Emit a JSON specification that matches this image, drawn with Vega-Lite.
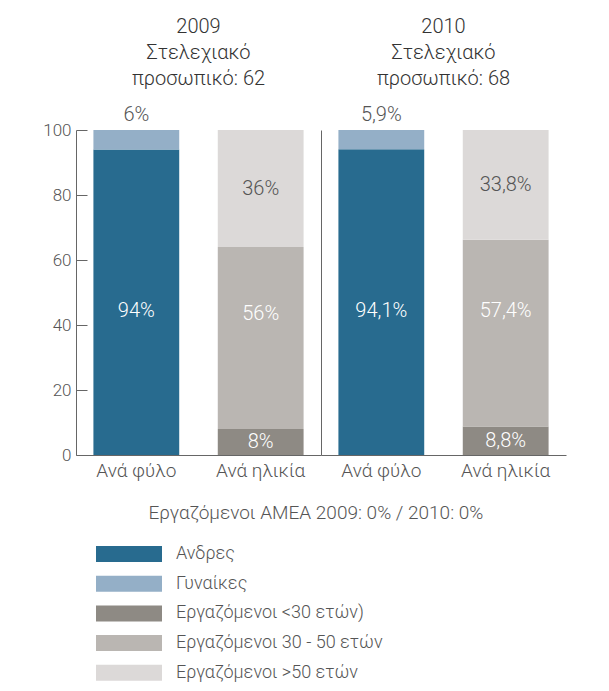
{
  "$schema": "https://vega.github.io/schema/vega-lite/v6.json",
  "background": "white",
  "padding": {"left": 42, "top": 17, "right": 5, "bottom": 5},
  "bounds": "flush",
  "spacing": 0,
  "config": {
    "font": "Roboto",
    "view": {"stroke": null},
    "axis": {"grid": false, "labelFont": "Roboto", "labelFontWeight": 300, "labelColor": "#555", "domainColor": "#666", "tickColor": "#666"},
    "title": {"font": "Roboto", "fontWeight": 300, "color": "#333"},
    "text": {"font": "Roboto", "fontSize": 20, "fontWeight": 300}
  },
  "data": {
    "values": [
      {"year": 2009, "group": "Ανά φύλο", "category": "Ανδρες", "ord": 1, "value": 94, "label": "94%"},
      {"year": 2009, "group": "Ανά φύλο", "category": "Γυναίκες", "ord": 2, "value": 6, "label": "6%"},
      {"year": 2009, "group": "Ανά ηλικία", "category": "Εργαζόμενοι <30 ετών)", "ord": 3, "value": 8, "label": "8%"},
      {"year": 2009, "group": "Ανά ηλικία", "category": "Εργαζόμενοι 30 - 50 ετών", "ord": 4, "value": 56, "label": "56%"},
      {"year": 2009, "group": "Ανά ηλικία", "category": "Εργαζόμενοι >50 ετών", "ord": 5, "value": 36, "label": "36%"},
      {"year": 2010, "group": "Ανά φύλο", "category": "Ανδρες", "ord": 1, "value": 94.1, "label": "94,1%"},
      {"year": 2010, "group": "Ανά φύλο", "category": "Γυναίκες", "ord": 2, "value": 5.9, "label": "5,9%"},
      {"year": 2010, "group": "Ανά ηλικία", "category": "Εργαζόμενοι <30 ετών)", "ord": 3, "value": 8.8, "label": "8,8%"},
      {"year": 2010, "group": "Ανά ηλικία", "category": "Εργαζόμενοι 30 - 50 ετών", "ord": 4, "value": 57.4, "label": "57,4%"},
      {"year": 2010, "group": "Ανά ηλικία", "category": "Εργαζόμενοι >50 ετών", "ord": 5, "value": 33.8, "label": "33,8%"}
    ]
  },
  "hconcat": [
    {
      "width": 245,
      "height": 325,
      "title": {"text": ["2009", "Στελεχιακό", "προσωπικό: 62"], "frame": "group", "anchor": "middle", "fontSize": 20, "lineHeight": 26, "offset": 16},
      "transform": [{"filter": "datum.year == 2009"}],
      "encoding": {
        "x": {"field": "group", "type": "nominal", "sort": ["Ανά φύλο", "Ανά ηλικία"],
          "scale": {"paddingInner": 0.31, "paddingOuter": 0.14},
          "axis": {"title": "Εργαζόμενοι ΑΜΕΑ 2009: 0% / 2010: 0%", "labelAngle": 0, "ticks": false, "labelPadding": 6, "labelFontSize": 19,
            "titleAnchor": "start", "titleAlign": "left", "titleX": 72, "titleY": 48, "titleFontSize": 19, "titleFontWeight": 300, "titleColor": "#555", "titleFont": "Roboto"}}
      },
      "layer": [
        {
          "mark": {"type": "bar"},
          "encoding": {
            "y": {"field": "value", "type": "quantitative", "stack": "zero", "scale": {"domain": [0, 100]},
              "axis": {"values": [0, 20, 40, 60, 80, 100], "tickSize": -11, "labelPadding": 16, "labelFontSize": 17, "title": null}},
            "color": {"field": "category", "type": "nominal",
              "scale": {"domain": ["Ανδρες", "Γυναίκες", "Εργαζόμενοι <30 ετών)", "Εργαζόμενοι 30 - 50 ετών", "Εργαζόμενοι >50 ετών"],
                "range": ["#286b8f", "#94afc7", "#8e8a84", "#bab6b2", "#dcd9d8"]},
              "legend": {"orient": "none", "legendX": 44, "legendY": 415, "title": null,
                "symbolType": "M-4.125,-1H4.125V1H-4.125Z", "symbolSize": 256, "symbolStrokeWidth": 0, "symbolOpacity": 1,
                "labelOffset": 38, "labelFontSize": 18, "labelFont": "Roboto", "labelFontWeight": 300, "labelColor": "#555", "rowPadding": 11.7, "labelLimit": 400}},
            "order": {"field": "ord", "type": "quantitative"}
          }
        },
        {
          "transform": [{"filter": "datum.group == 'Ανά ηλικία'"}],
          "mark": {"type": "text", "baseline": "middle"},
          "encoding": {
            "y": {"field": "value", "type": "quantitative", "stack": "zero", "bandPosition": 0.5, "axis": {"values": [0, 20, 40, 60, 80, 100], "tickSize": -11, "labelPadding": 16, "labelFontSize": 17, "title": null}},
            "detail": {"field": "category"},
            "order": {"field": "ord", "type": "quantitative"},
            "text": {"condition": {"test": "datum.category != 'Εργαζόμενοι 30 - 50 ετών'", "field": "label"}, "value": ""},
            "color": {"condition": {"test": "datum.category == 'Εργαζόμενοι >50 ετών'", "value": "#555"}, "value": "white"}
          }
        },
        {
          "transform": [{"filter": "datum.group == 'Ανά ηλικία'"}],
          "mark": {"type": "text", "baseline": "middle", "color": "white"},
          "encoding": {
            "y": {"field": "value", "type": "quantitative", "stack": "zero", "bandPosition": 0.63, "axis": {"values": [0, 20, 40, 60, 80, 100], "tickSize": -11, "labelPadding": 16, "labelFontSize": 17, "title": null}},
            "detail": {"field": "category"},
            "order": {"field": "ord", "type": "quantitative"},
            "text": {"condition": {"test": "datum.category == 'Εργαζόμενοι 30 - 50 ετών'", "field": "label"}, "value": ""}
          }
        },
        {
          "transform": [{"filter": "datum.group == 'Ανά φύλο'"}],
          "mark": {"type": "text", "baseline": "middle", "color": "white"},
          "encoding": {
            "y": {"field": "value", "type": "quantitative", "stack": "zero", "bandPosition": 0.47, "axis": {"values": [0, 20, 40, 60, 80, 100], "tickSize": -11, "labelPadding": 16, "labelFontSize": 17, "title": null}},
            "detail": {"field": "category"},
            "order": {"field": "ord", "type": "quantitative"},
            "text": {"condition": {"test": "datum.category == 'Ανδρες'", "field": "label"}, "value": ""}
          }
        },
        {
          "transform": [{"filter": "datum.group == 'Ανά φύλο'"}],
          "mark": {"type": "text", "baseline": "bottom", "dy": -5, "color": "#555"},
          "encoding": {
            "y": {"field": "value", "type": "quantitative", "stack": "zero", "axis": {"values": [0, 20, 40, 60, 80, 100], "tickSize": -11, "labelPadding": 16, "labelFontSize": 17, "title": null}},
            "detail": {"field": "category"},
            "order": {"field": "ord", "type": "quantitative"},
            "text": {"condition": {"test": "datum.category == 'Γυναίκες'", "field": "label"}, "value": ""}
          }
        }
      ]
    },
    {
      "width": 245,
      "height": 325,
      "title": {"text": ["2010", "Στελεχιακό", "προσωπικό: 68"], "frame": "group", "anchor": "middle", "fontSize": 20, "lineHeight": 26, "offset": 16},
      "transform": [{"filter": "datum.year == 2010"}],
      "encoding": {
        "x": {"field": "group", "type": "nominal", "sort": ["Ανά φύλο", "Ανά ηλικία"],
          "scale": {"paddingInner": 0.31, "paddingOuter": 0.14},
          "axis": {"title": null, "labelAngle": 0, "ticks": false, "labelPadding": 6, "labelFontSize": 19}}
      },
      "layer": [
        {
          "mark": {"type": "bar"},
          "encoding": {
            "y": {"field": "value", "type": "quantitative", "stack": "zero", "scale": {"domain": [0, 100]},
              "axis": {"labels": false, "ticks": false, "title": null, "domain": true}},
            "color": {"field": "category", "type": "nominal",
              "scale": {"domain": ["Ανδρες", "Γυναίκες", "Εργαζόμενοι <30 ετών)", "Εργαζόμενοι 30 - 50 ετών", "Εργαζόμενοι >50 ετών"],
                "range": ["#286b8f", "#94afc7", "#8e8a84", "#bab6b2", "#dcd9d8"]},
              "legend": {"orient": "none", "legendX": 44, "legendY": 415, "title": null,
                "symbolType": "M-4.125,-1H4.125V1H-4.125Z", "symbolSize": 256, "symbolStrokeWidth": 0, "symbolOpacity": 1,
                "labelOffset": 38, "labelFontSize": 18, "labelFont": "Roboto", "labelFontWeight": 300, "labelColor": "#555", "rowPadding": 11.7, "labelLimit": 400}},
            "order": {"field": "ord", "type": "quantitative"}
          }
        },
        {
          "transform": [{"filter": "datum.group == 'Ανά ηλικία'"}],
          "mark": {"type": "text", "baseline": "middle"},
          "encoding": {
            "y": {"field": "value", "type": "quantitative", "stack": "zero", "bandPosition": 0.5, "axis": {"labels": false, "ticks": false, "title": null, "domain": true}},
            "detail": {"field": "category"},
            "order": {"field": "ord", "type": "quantitative"},
            "text": {"condition": {"test": "datum.category != 'Εργαζόμενοι 30 - 50 ετών'", "field": "label"}, "value": ""},
            "color": {"condition": {"test": "datum.category == 'Εργαζόμενοι >50 ετών'", "value": "#555"}, "value": "white"}
          }
        },
        {
          "transform": [{"filter": "datum.group == 'Ανά ηλικία'"}],
          "mark": {"type": "text", "baseline": "middle", "color": "white"},
          "encoding": {
            "y": {"field": "value", "type": "quantitative", "stack": "zero", "bandPosition": 0.62, "axis": {"labels": false, "ticks": false, "title": null, "domain": true}},
            "detail": {"field": "category"},
            "order": {"field": "ord", "type": "quantitative"},
            "text": {"condition": {"test": "datum.category == 'Εργαζόμενοι 30 - 50 ετών'", "field": "label"}, "value": ""}
          }
        },
        {
          "transform": [{"filter": "datum.group == 'Ανά φύλο'"}],
          "mark": {"type": "text", "baseline": "middle", "color": "white"},
          "encoding": {
            "y": {"field": "value", "type": "quantitative", "stack": "zero", "bandPosition": 0.47, "axis": {"labels": false, "ticks": false, "title": null, "domain": true}},
            "detail": {"field": "category"},
            "order": {"field": "ord", "type": "quantitative"},
            "text": {"condition": {"test": "datum.category == 'Ανδρες'", "field": "label"}, "value": ""}
          }
        },
        {
          "transform": [{"filter": "datum.group == 'Ανά φύλο'"}],
          "mark": {"type": "text", "baseline": "bottom", "dy": -5, "color": "#555"},
          "encoding": {
            "y": {"field": "value", "type": "quantitative", "stack": "zero", "axis": {"labels": false, "ticks": false, "title": null, "domain": true}},
            "detail": {"field": "category"},
            "order": {"field": "ord", "type": "quantitative"},
            "text": {"condition": {"test": "datum.category == 'Γυναίκες'", "field": "label"}, "value": ""}
          }
        }
      ]
    }
  ],
  "resolve": {"scale": {"color": "shared"}}
}
